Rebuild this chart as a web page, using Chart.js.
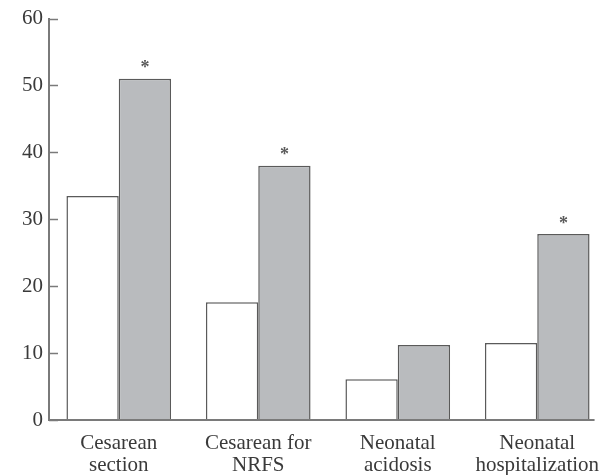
<!DOCTYPE html>
<html>
<head>
<meta charset="utf-8">
<script src="https://cdn.jsdelivr.net/npm/chart.js@4/dist/chart.umd.min.js"></script>
<style>
  html, body { margin: 0; padding: 0; background: #fff; }
  #wrap { width: 609px; height: 475px; position: relative; }
</style>
</head>
<body>
<div id="wrap"><canvas id="barChart"></canvas></div>
<script>
// chart data
const categories = [['Cesarean', 'section'], ['Cesarean for', 'NRFS'], ['Neonatal', 'acidosis'], ['Neonatal', 'hospitalization']];
const controlValues = [33.5, 17.6, 6.1, 11.5];
const studyValues = [51.0, 38.0, 11.2, 27.8];
const significant = [true, true, false, true];
const yTicks = [0, 10, 20, 30, 40, 50, 60];

const axisColor = '#7a7a7a';
const edgeColor = '#5a5a5a';
const textColor = '#3a3a3a';
const serif = '"Liberation Serif", "DejaVu Serif", serif';

// baseline, short tick marks pointing into the plot, asterisks over significant bars
const extras = {
  id: 'extras',
  afterDatasetsDraw(chart) {
    const ctx = chart.ctx;
    const y = chart.scales.y;
    const left = chart.chartArea.left;
    const study = chart.getDatasetMeta(1).data;
    const last = study[study.length - 1];
    ctx.save();
    ctx.strokeStyle = axisColor;
    ctx.lineWidth = 2;
    const y0 = y.getPixelForValue(0);
    ctx.beginPath();
    ctx.moveTo(left - 1, y0);
    ctx.lineTo(last.x + last.width / 2 + 5, y0);
    ctx.stroke();
    ctx.lineWidth = 1.5;
    yTicks.forEach(v => {
      const py = Math.round(y.getPixelForValue(v)) + 0.5;
      ctx.beginPath();
      ctx.moveTo(left, py);
      ctx.lineTo(left + 9, py);
      ctx.stroke();
    });
    ctx.fillStyle = edgeColor;
    ctx.font = 'bold 18px ' + serif;
    ctx.textAlign = 'center';
    ctx.textBaseline = 'middle';
    study.forEach((bar, i) => {
      if (significant[i]) ctx.fillText('*', bar.x, bar.y - 10);
    });
    ctx.restore();
  }
};

const barCtx = document.getElementById('barChart').getContext('2d');
const barChart = new Chart(barCtx, {
  type: 'bar',
  data: {
    labels: categories,
    datasets: [{
      label: 'Control',
      data: controlValues,
      backgroundColor: '#ffffff',
      borderColor: edgeColor,
      borderWidth: 1.5
    }, {
      label: 'Study',
      data: studyValues,
      backgroundColor: '#b9bbbe',
      borderColor: edgeColor,
      borderWidth: 1.5
    }]
  },
  options: {
    responsive: true,
    maintainAspectRatio: false,
    animation: false,
    layout: { padding: { top: 17, right: 2, left: 0, bottom: 0 } },
    plugins: {
      legend: { display: false },
      tooltip: { enabled: false }
    },
    datasets: {
      bar: { categoryPercentage: 0.75, barPercentage: 1.0 }
    },
    scales: {
      x: {
        grid: { display: false },
        border: { display: false },
        ticks: {
          color: textColor,
          font: { family: serif, size: 21, lineHeight: 1.05 },
          padding: 4,
          maxRotation: 0,
          autoSkip: false
        },
        afterFit(scale) { scale.height = 55; }
      },
      y: {
        min: 0,
        max: 60,
        grid: { display: false, drawTicks: false },
        border: { display: true, color: axisColor, width: 2 },
        ticks: {
          stepSize: 10,
          color: textColor,
          font: { family: serif, size: 21 },
          padding: 6
        },
        afterFit(scale) { scale.width = 49; }
      }
    }
  },
  plugins: [extras]
});
</script>
</body>
</html>
